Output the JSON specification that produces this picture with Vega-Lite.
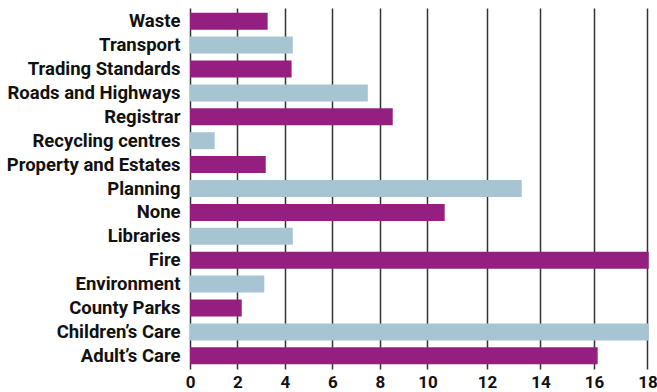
{
  "$schema": "https://vega.github.io/schema/vega-lite/v6.json",
  "autosize": "none",
  "width": 458,
  "height": 361,
  "padding": {"left": 190, "top": 8, "right": 9, "bottom": 23},
  "background": "white",
  "config": {
    "view": {"stroke": null},
    "font": "Roboto",
    "axis": {"labelFont": "Roboto", "labelFontWeight": "bold", "labelColor": "#111111"}
  },
  "data": {
    "values": [
      {"service": "Waste", "count": 3.27},
      {"service": "Transport", "count": 4.33},
      {"service": "Trading Standards", "count": 4.28},
      {"service": "Roads and Highways", "count": 7.49},
      {"service": "Registrar", "count": 8.54},
      {"service": "Recycling centres", "count": 1.04},
      {"service": "Property and Estates", "count": 3.19},
      {"service": "Planning", "count": 13.3},
      {"service": "None", "count": 10.58},
      {"service": "Libraries", "count": 4.33},
      {"service": "Fire", "count": 18.05},
      {"service": "Environment", "count": 3.13},
      {"service": "County Parks", "count": 2.18},
      {"service": "Children’s Care", "count": 18.05},
      {"service": "Adult’s Care", "count": 16.14}
    ]
  },
  "transform": [
    {"window": [{"op": "row_number", "as": "idx"}]},
    {"calculate": "(datum.idx - 1) % 2", "as": "parity"}
  ],
  "mark": {"type": "bar", "clip": false},
  "encoding": {
    "y": {
      "field": "service",
      "type": "nominal",
      "sort": null,
      "scale": {"paddingInner": 0.29, "paddingOuter": 0.197},
      "axis": {"title": null, "ticks": false, "domain": false, "labelFontSize": 18.5, "labelPadding": 10, "grid": false}
    },
    "x": {
      "field": "count",
      "type": "quantitative",
      "scale": {"domain": [0, 10, 12, 18], "range": [0, 237.4, 297, 457.4], "nice": false, "clamp": false},
      "axis": {
        "title": null,
        "values": [0, 2, 4, 6, 8, 10, 12, 14, 16, 18],
        "grid": true,
        "gridColor": "#333333",
        "gridWidth": 1.5,
        "gridOpacity": 1,
        "ticks": false,
        "domain": false,
        "labelFontSize": 17,
        "labelPadding": 5,
        "labelFlush": false
      }
    },
    "color": {
      "field": "parity",
      "type": "nominal",
      "scale": {"domain": [0, 1], "range": ["#951F80", "#A7C4D2"]},
      "legend": null
    }
  }
}
